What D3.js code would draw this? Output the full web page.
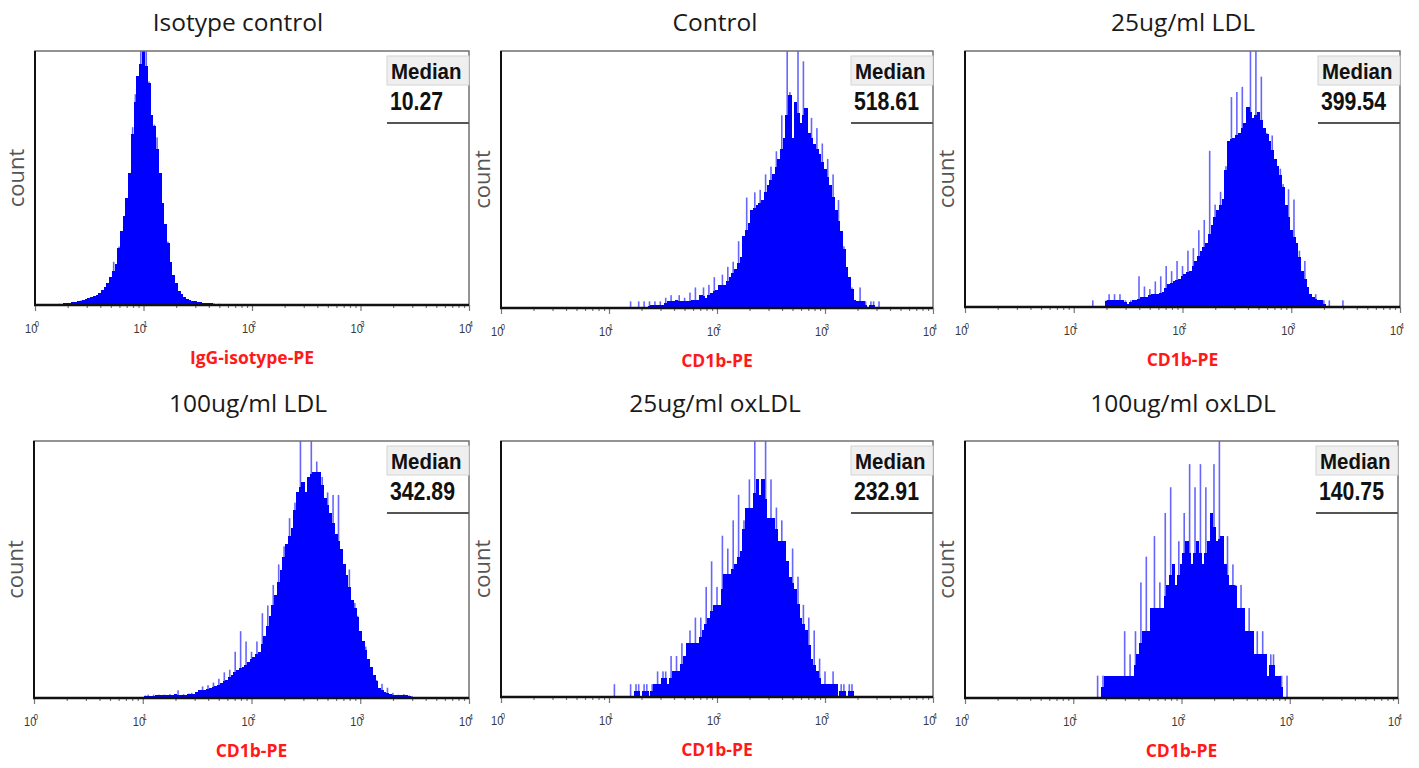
<!DOCTYPE html>
<html>
<head>
<meta charset="utf-8">
<script src="https://cdn.jsdelivr.net/npm/d3@7"></script>
<style>
    body { margin: 0; background: #fff; }
    svg { display: block; }
</style>
</head>
<body>
<div id="chart"></div>
<script>
/**** DATA ****/
// Counts are read off the picture as % of each panel's own maximum.
// Bins are log10-spaced, binStep wide, first bin centre given in binStarts.
var binStep = 0.025;

var panelTitles = ["Isotype control", "Control", "25ug/ml LDL",
                   "100ug/ml LDL", "25ug/ml oxLDL", "100ug/ml oxLDL"];
var axisLabels = ["IgG-isotype-PE", "CD1b-PE", "CD1b-PE", "CD1b-PE", "CD1b-PE", "CD1b-PE"];
var medians = ["10.27", "518.61", "399.54", "342.89", "232.91", "140.75"];
var decadeExponents = [0, 1, 2, 3, 4];
var binStarts = [0.2, 1.2, 1.15, 1.025, 1.05, 1.2];

var isotypeCounts = [
    0.3, 0.5, 0.4, 0.7, 0.8, 0.9, 1.2, 1.1, 1.5, 1.8, 1.9, 2.3, 2.6, 3.0, 3.5, 4.1,
    4.8, 5.9, 7.2, 8.6, 11, 17, 16, 23, 29, 35, 42, 52, 70, 83, 90, 100,
    100, 100, 88, 75, 71, 66, 52, 40, 32, 25, 17, 12, 8.5, 5.5, 4.2, 3.2,
    2.4, 2.0, 1.6, 1.4, 1.2, 1.0, 0.9, 0.8, 0.7, 0.6, 0.6, 0.5, 0.5, 0.4,
    0.4, 0.4, 0.3, 0.3, 0.3, 0.3, 0.2, 0.2, 0.2, 0.2
];
var controlCounts = [
    2.6, 0, 0, 2.6, 0, 2.6, 0, 2.6, 1.3, 2.6, 1.3, 2.6, 1.3, 4, 2.6, 5,
    2.6, 3, 5, 2.6, 4, 2.6, 6, 3, 8, 3, 5, 8, 4, 9, 6, 12,
    7, 9, 13, 9, 16, 12, 18, 15, 26, 20, 28, 43, 33, 38, 45, 40,
    46, 42, 52, 48, 55, 52, 61, 58, 75, 66, 100, 84, 66, 80, 100, 72,
    96, 78, 68, 74, 64, 70, 60, 64, 54, 58, 48, 52, 38, 42, 30, 24,
    16, 12, 8, 3, 2.6, 8, 2.6, 2.6, 0, 2.6, 2.6, 0, 2.6
];
var ldl25Counts = [
    0, 2.6, 0, 0, 0, 0, 2.6, 5, 2.6, 5, 2.6, 5, 2.6, 2.6, 1.3, 2.6,
    2.6, 2.6, 12, 4, 8, 4, 7, 5, 10, 5, 12, 6, 16, 9, 14, 10,
    18, 11, 16, 13, 22, 14, 23, 18, 30, 22, 34, 25, 61, 32, 40, 38,
    45, 42, 55, 65, 82, 66, 84, 68, 86, 72, 78, 100, 74, 100, 76, 90,
    70, 68, 65, 67, 58, 55, 54, 48, 40, 46, 30, 42, 25, 22, 14, 18,
    8, 5, 4, 5, 2.6, 2.6, 2.6, 0, 2.6, 0, 0, 0, 0, 2.6
];
var ldl100Counts = [
    1, 1.3, 0.8, 1.3, 1, 1.3, 1, 1.3, 1, 1.5, 1, 1.5, 3, 1.2, 1.5, 1.2,
    1.7, 2, 1.5, 2.2, 3, 4.5, 3, 5, 4, 6, 4.5, 7.5, 6, 10, 7, 11,
    9, 18, 11, 26, 12, 22, 14, 18, 16, 22, 18, 33, 24, 36, 32, 44,
    40, 52, 50, 59, 60, 70, 66, 76, 80, 100, 84, 80, 86, 100, 88, 92,
    88, 86, 78, 80, 72, 79, 64, 79, 58, 52, 48, 50, 38, 37, 32, 26,
    22, 20, 15, 12, 9, 7, 4, 5.5, 2.5, 4, 1.5, 2, 1, 1.3, 1, 1.5,
    1, 1, 0.8
];
var oxldl25Counts = [
    5, 0, 0, 0, 0, 0, 5, 0, 5, 5, 0, 5, 5, 0, 5, 5,
    10, 5, 10, 10, 5, 16, 10, 16, 10, 21, 16, 21, 26, 21, 31, 21,
    31, 26, 43, 31, 53, 36, 43, 36, 63, 48, 58, 48, 69, 52, 79, 57,
    69, 74, 85, 74, 100, 85, 79, 85, 100, 70, 85, 70, 74, 61, 69, 61,
    53, 47, 58, 42, 47, 31, 36, 26, 31, 15, 26, 10, 15, 5, 10, 5,
    5, 10, 5, 0, 5, 5, 0, 5, 5, 0
];
var oxldl100Counts = [
    0, 8.7, 0, 8.7, 8.7, 8.7, 8.7, 8.7, 8.7, 8.7, 8.7, 26, 8.7, 17, 8.7, 26,
    17, 45, 26, 55, 26, 35, 63, 35, 45, 35, 72, 44, 82, 52, 44, 61,
    52, 72, 61, 91, 52, 82, 61, 91, 52, 82, 61, 72, 91, 61, 100, 63,
    52, 63, 44, 52, 44, 35, 44, 35, 26, 35, 26, 17, 26, 17, 26, 17,
    8.7, 17, 17, 8.7, 8.7, 8.7, 0, 8.7
];
var panelCounts = [isotypeCounts, controlCounts, ldl25Counts,
                   ldl100Counts, oxldl25Counts, oxldl100Counts];

/**** LAYOUT ****/
var width = 1419, height = 768;
var panels = [
    {left: 35,  top: 51,  right: 469,  bottom: 305, titleX: 238,  titleY: 31},
    {left: 501, top: 51,  right: 933,  bottom: 308, titleX: 715,  titleY: 31},
    {left: 965, top: 51,  right: 1400, bottom: 307, titleX: 1183, titleY: 31},
    {left: 34,  top: 441, right: 469,  bottom: 698, titleX: 248,  titleY: 412},
    {left: 501, top: 441, right: 933,  bottom: 697, titleX: 715,  titleY: 412},
    {left: 965, top: 441, right: 1398, bottom: 698, titleX: 1183, titleY: 412}
];
var blue = '#0000ff';

var svg = d3.select('#chart').append('svg')
    .attr('width', width)
    .attr('height', height);

panels.forEach(function(p, i) {
    var w = p.right - p.left,
        h = p.bottom - p.top;
    var x = d3.scaleLog().domain([1, 1e4]).range([0, w]),
        y = d3.scaleLinear().domain([0, 100]).range([h, 0]);

    // Title
    svg.append('text')
        .attr('x', p.titleX)
        .attr('y', p.titleY)
        .attr('text-anchor', 'middle')
        .style('font-family', '"Open Sans", sans-serif')
        .style('font-size', '24.5px')
        .style('fill', '#1a1a1a')
        .text(panelTitles[i]);

    // y label
    svg.append('text')
        .attr('transform', 'translate(' + (p.left - 11) + ',' + ((p.top + p.bottom) / 2) + ') rotate(-90)')
        .attr('text-anchor', 'middle')
        .style('font-family', '"Open Sans", sans-serif')
        .style('font-size', '22px')
        .style('fill', '#555')
        .text('count');

    var g = svg.append('g').attr('transform', 'translate(' + p.left + ',' + p.top + ')');

    // Histogram bars
    var counts = panelCounts[i];
    var bins = counts.map(function(v, j) {
        var c = binStarts[i] + j * binStep;
        var prev = j > 0 ? counts[j - 1] : 0,
            next = j < counts.length - 1 ? counts[j + 1] : 0;
        return {
            c: Math.pow(10, c),
            x0: Math.pow(10, c - binStep / 2),
            x1: Math.pow(10, c + binStep / 2),
            v: v,
            core: Math.min(v, (prev + next) / 2)
        };
    });

    // thin light spikes above the solid body
    g.selectAll('.spike').data(bins.filter(function(d) { return d.v > d.core; }))
        .enter().append('rect')
        .attr('class', 'spike')
        .attr('x', function(d) { return x(d.c) - 0.8; })
        .attr('width', 1.6)
        .attr('y', function(d) { return y(d.v); })
        .attr('height', function(d) { return y(d.core) - y(d.v) + 0.5; })
        .attr('fill', blue)
        .attr('opacity', 0.6);

    g.selectAll('.bar').data(bins.filter(function(d) { return d.core > 0; }))
        .enter().append('rect')
        .attr('class', 'bar')
        .attr('x', function(d) { return x(d.x0) - 0.4; })
        .attr('width', function(d) { return x(d.x1) - x(d.x0) + 0.8; })
        .attr('y', function(d) { return y(d.core); })
        .attr('height', function(d) { return h - y(d.core); })
        .attr('fill', blue)
        .attr('shape-rendering', 'crispEdges');

    // Frame
    g.append('rect')
        .attr('width', w).attr('height', h)
        .attr('fill', 'none')
        .attr('stroke', '#707070')
        .attr('stroke-width', 1.5);
    g.append('line')
        .attr('x1', 0).attr('x2', 0).attr('y1', 0).attr('y2', h)
        .attr('stroke', '#111').attr('stroke-width', 2);

    // Log axis ticks
    var majorTicks = decadeExponents.map(function(e) { return Math.pow(10, e); });
    var minorTicks = x.ticks().filter(function(t) { return majorTicks.indexOf(t) < 0; });

    var minorAxis = g.append('g')
        .attr('transform', 'translate(0,' + h + ')')
        .call(d3.axisBottom(x).tickValues(minorTicks).tickSize(3).tickFormat(''));
    var majorAxis = g.append('g')
        .attr('transform', 'translate(0,' + h + ')')
        .call(d3.axisBottom(x).tickValues(majorTicks).tickSize(6).tickFormat(''));
    [minorAxis, majorAxis].forEach(function(a) {
        a.select('.domain').remove();
        a.selectAll('.tick line').attr('stroke', '#777').attr('stroke-width', 1.2);
    });

    g.append('line')
        .attr('x1', -1).attr('x2', w).attr('y1', h).attr('y2', h)
        .attr('stroke', '#111').attr('stroke-width', 2.5);

    // Decade labels: 10 with a small superscript exponent
    decadeExponents.forEach(function(e) {
        var t = g.append('text')
            .attr('transform', 'translate(' + (x(Math.pow(10, e)) - 3) + ',' + (h + 28) + ') scale(0.85,1)')
            .attr('text-anchor', 'middle')
            .style('font-family', '"Liberation Sans", Arial, sans-serif')
            .style('font-size', '13px')
            .style('fill', '#3a3a3a');
        t.append('tspan').text('10');
        t.append('tspan')
            .attr('dx', -3)
            .attr('dy', -6)
            .style('font-size', '9px')
            .text(e);
    });

    // x label
    svg.append('text')
        .attr('x', (p.left + p.right) / 2)
        .attr('y', p.bottom + 59)
        .attr('text-anchor', 'middle')
        .style('font-family', '"Open Sans", sans-serif')
        .style('font-weight', 'bold')
        .style('font-size', '17.5px')
        .style('fill', '#ff1a1a')
        .text(axisLabels[i]);

    // Median box
    var mb = g.append('g').attr('transform', 'translate(' + (w - 82) + ',0)');
    mb.append('rect')
        .attr('x', 0).attr('y', 5)
        .attr('width', 82).attr('height', 29)
        .attr('fill', '#efefef')
        .attr('stroke', '#d4d4d4')
        .attr('stroke-width', 1);
    mb.append('text')
        .attr('transform', 'translate(4,28) scale(0.93,1)')
        .style('font-family', '"Liberation Sans", Arial, sans-serif')
        .style('font-weight', 'bold')
        .style('font-size', '22px')
        .style('fill', '#111')
        .text('Median');
    mb.append('text')
        .attr('transform', 'translate(3,59) scale(0.85,1)')
        .style('font-family', '"Liberation Sans", Arial, sans-serif')
        .style('font-weight', 'bold')
        .style('font-size', '25px')
        .style('fill', '#111')
        .text(medians[i]);
    mb.append('line')
        .attr('x1', 0).attr('x2', 82).attr('y1', 72).attr('y2', 72)
        .attr('stroke', '#555').attr('stroke-width', 2);
});
</script>
</body>
</html>
